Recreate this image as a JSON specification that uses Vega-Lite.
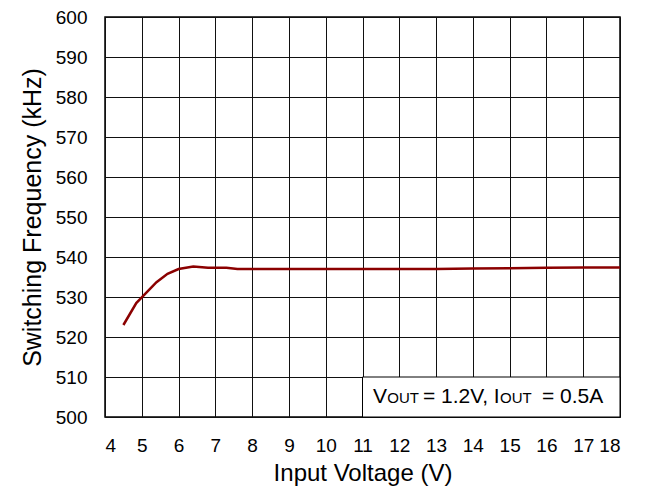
{
  "$schema": "https://vega.github.io/schema/vega-lite/v6.json",
  "width": 515,
  "height": 400,
  "autosize": {"type": "none"},
  "padding": {"left": 105, "top": 17, "right": 26, "bottom": 80},
  "background": "white",
  "config": {
    "font": "Liberation Sans",
    "view": {"stroke": "#000", "strokeWidth": 1.5},
    "axis": {
      "labelFont": "Liberation Sans",
      "titleFont": "Liberation Sans",
      "labelFontSize": 19,
      "titleFontSize": 24,
      "titleFontWeight": "normal",
      "labelColor": "#000",
      "titleColor": "#000",
      "gridColor": "#111",
      "gridWidth": 1,
      "gridOpacity": 1,
      "domain": false,
      "ticks": false,
      "labelOverlap": false
    }
  },
  "datasets": {
    "curve": [
      {"x": 4.5, "y": 523.0},
      {"x": 4.85, "y": 528.5},
      {"x": 5.0, "y": 529.9},
      {"x": 5.4, "y": 533.7},
      {"x": 5.7, "y": 535.8},
      {"x": 6.0, "y": 537.0},
      {"x": 6.4, "y": 537.6},
      {"x": 6.8, "y": 537.3},
      {"x": 7.3, "y": 537.3},
      {"x": 7.6, "y": 537.0},
      {"x": 8, "y": 537.0},
      {"x": 9, "y": 537.0},
      {"x": 10, "y": 537.0},
      {"x": 11, "y": 537.0},
      {"x": 12, "y": 537.0},
      {"x": 13, "y": 537.0},
      {"x": 14, "y": 537.1},
      {"x": 15, "y": 537.2},
      {"x": 16, "y": 537.3},
      {"x": 17, "y": 537.4},
      {"x": 18, "y": 537.4}
    ],
    "box": [{"x": 11.0, "x2": 18, "y": 500, "y2": 510}],
    "label": [
      {"x": 11.285, "y": 503.5, "t": "V", "s": 21},
      {"x": 11.675, "y": 503.5, "t": "OUT", "s": 15},
      {"x": 12.644, "y": 503.5, "t": "= 1.2V,", "s": 21},
      {"x": 14.57, "y": 503.5, "t": "I", "s": 21},
      {"x": 14.74, "y": 503.5, "t": "OUT", "s": 15},
      {"x": 15.878, "y": 503.5, "t": "= 0.5A", "s": 21}
    ]
  },
  "encoding": {
    "x": {
      "field": "x", "type": "quantitative",
      "scale": {"domain": [4, 18], "nice": false, "zero": false},
      "axis": {"values": [4,5,6,7,8,9,10,11,12,13,14,15,16,17,18], "title": "Input Voltage (V)", "labelPadding": 19, "titlePadding": 6}
    },
    "y": {
      "field": "y", "type": "quantitative",
      "scale": {"domain": [500, 600], "nice": false, "zero": false},
      "axis": {"values": [500,510,520,530,540,550,560,570,580,590,600], "title": "Switching Frequency (kHz)", "titleFontSize": 25, "labelPadding": 18, "titlePadding": 10}
    }
  },
  "layer": [
    {
      "data": {"name": "curve"},
      "mark": {"type": "line", "color": "#8B0000", "strokeWidth": 2.5}
    },
    {
      "data": {"name": "box"},
      "mark": {"type": "rect", "fill": "white", "stroke": "#000", "strokeWidth": 1},
      "encoding": {
        "x2": {"field": "x2"},
        "y2": {"field": "y2"}
      }
    },
    {
      "data": {"name": "label"},
      "mark": {"type": "text", "align": "left", "baseline": "alphabetic", "color": "#000", "font": "Liberation Sans"},
      "encoding": {
        "text": {"field": "t"},
        "size": {"field": "s", "type": "quantitative", "scale": null}
      }
    }
  ]
}
